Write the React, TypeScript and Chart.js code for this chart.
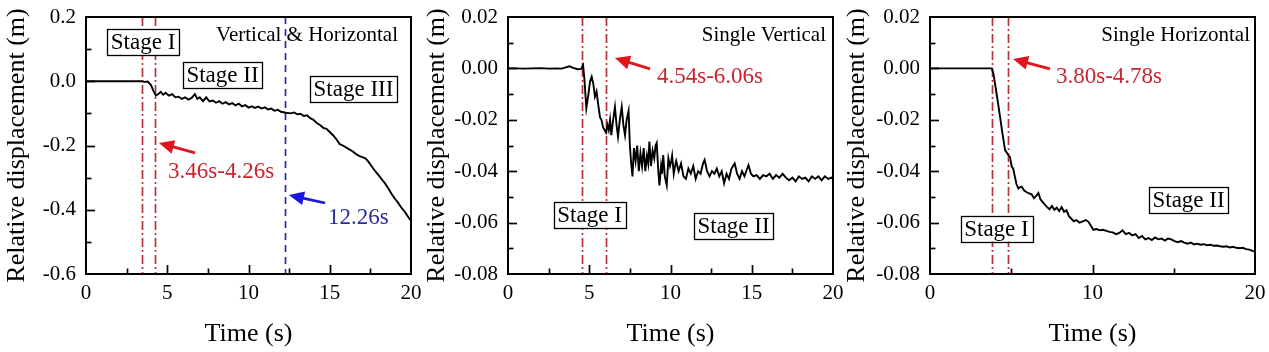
import React, { useEffect, useRef } from "react";
import { Chart, registerables } from "chart.js";

Chart.register(...registerables);

// ---------- Panel 1: Vertical & Horizontal ----------
const p1Time = [0, 1, 2, 3, 3.4, 3.6, 3.8, 4.0, 4.15, 4.3, 4.45, 4.6, 4.75, 4.9, 5.1, 5.3, 5.5, 5.7, 5.9, 6.1, 6.3, 6.5, 6.7, 6.85, 7.0, 7.2, 7.4, 7.6, 7.8, 8.0, 8.2, 8.4, 8.6, 8.8, 9.0, 9.2, 9.4, 9.6, 9.8, 10.0, 10.2, 10.4, 10.6, 10.8, 11.0, 11.2, 11.4, 11.6, 11.8, 12.0, 12.3, 12.6, 12.8, 13.0, 13.2, 13.4, 13.6, 13.8, 14.0, 14.2, 14.4, 14.6, 14.8, 15.0, 15.2, 15.4, 15.6, 15.8, 16.0, 16.2, 16.4, 16.6, 16.8, 17.0, 17.2, 17.4, 17.6, 17.8, 18.0, 18.2, 18.4, 18.6, 18.8, 19.0, 19.2, 19.4, 19.6, 19.8, 20.0];
const p1Disp = [0, 0, 0, 0, 0, -0.002, -0.001, -0.012, -0.03, -0.045, -0.04, -0.033, -0.042, -0.036, -0.045, -0.04, -0.05, -0.048, -0.055, -0.05, -0.057, -0.052, -0.04, -0.055, -0.05, -0.062, -0.05, -0.063, -0.06, -0.067, -0.062, -0.07, -0.065, -0.072, -0.068, -0.075, -0.07, -0.078, -0.074, -0.082, -0.078, -0.083, -0.079, -0.085, -0.081, -0.088, -0.085, -0.092, -0.089, -0.095, -0.098, -0.1, -0.097, -0.103, -0.101, -0.108, -0.106, -0.115, -0.12, -0.13, -0.136, -0.145, -0.148, -0.158, -0.168, -0.18, -0.195, -0.2, -0.206, -0.212, -0.218, -0.226, -0.232, -0.236, -0.24, -0.252, -0.266, -0.28, -0.292, -0.305, -0.318, -0.333, -0.35, -0.365, -0.378, -0.393, -0.405, -0.42, -0.435];
const p1StageLines = [3.46, 4.26];
const p1OnsetLines = [12.26];
const p1YTicks = [0.2, 0.0, -0.2, -0.4, -0.6];
const p1XTicks = [0, 5, 10, 15, 20];

// ---------- Panel 2: Single Vertical ----------
const p2Time = [0, 0.5, 1, 1.5, 2, 2.5, 3, 3.3, 3.6, 3.8, 4.0, 4.3, 4.5, 4.62, 4.7, 4.82, 4.95, 5.05, 5.15, 5.25, 5.35, 5.45, 5.55, 5.66, 5.75, 5.85, 5.95, 6.03, 6.12, 6.2, 6.28, 6.36, 6.45, 6.58, 6.68, 6.77, 6.88, 7.0, 7.1, 7.2, 7.3, 7.42, 7.5, 7.58, 7.66, 7.75, 7.85, 7.95, 8.05, 8.15, 8.25, 8.35, 8.45, 8.55, 8.63, 8.7, 8.8, 8.9, 9.0, 9.08, 9.15, 9.25, 9.32, 9.42, 9.48, 9.55, 9.65, 9.77, 9.87, 9.97, 10.05, 10.1, 10.2, 10.28, 10.35, 10.5, 10.65, 10.8, 10.95, 11.1, 11.25, 11.4, 11.55, 11.7, 11.85, 12.0, 12.1, 12.25, 12.4, 12.55, 12.7, 12.85, 13.0, 13.15, 13.3, 13.45, 13.6, 13.75, 13.95, 14.1, 14.25, 14.4, 14.55, 14.8, 14.95, 15.1, 15.3, 15.5, 15.7, 15.9, 16.1, 16.3, 16.5, 16.7, 16.9, 17.1, 17.3, 17.5, 17.7, 17.9, 18.1, 18.3, 18.5, 18.7, 18.9, 19.1, 19.3, 19.5, 19.7, 19.9, 20.0];
const p2Disp = [0, 0, -0.0001, 0, 0.0001, -0.0001, 0, -0.0001, 0.0005, 0.0008, 0.0002, -0.0003, -0.0002, 0.0013, -0.004, -0.0155, -0.01, -0.005, -0.0032, -0.006, -0.011, -0.009, -0.014, -0.019, -0.02, -0.023, -0.024, -0.025, -0.022, -0.024, -0.02, -0.026, -0.021, -0.015, -0.022, -0.0266, -0.02, -0.015, -0.022, -0.026, -0.02, -0.0165, -0.03, -0.037, -0.042, -0.031, -0.036, -0.03, -0.04, -0.033, -0.038, -0.031, -0.04, -0.034, -0.037, -0.0285, -0.038, -0.032, -0.035, -0.03, -0.029, -0.04, -0.0455, -0.038, -0.041, -0.0337, -0.042, -0.0455, -0.035, -0.038, -0.036, -0.034, -0.041, -0.038, -0.036, -0.04, -0.037, -0.042, -0.043, -0.039, -0.041, -0.038, -0.043, -0.04, -0.041, -0.037, -0.0356, -0.04, -0.042, -0.04, -0.041, -0.039, -0.042, -0.04, -0.0447, -0.041, -0.043, -0.039, -0.037, -0.041, -0.043, -0.04, -0.042, -0.0376, -0.041, -0.042, -0.0415, -0.043, -0.0415, -0.042, -0.041, -0.043, -0.0415, -0.0425, -0.041, -0.0425, -0.0435, -0.0425, -0.044, -0.042, -0.043, -0.0425, -0.044, -0.042, -0.043, -0.042, -0.0435, -0.042, -0.043, -0.0425, -0.043];
const p2StageLines = [4.54, 6.06];
const p2YTicks = [0.02, 0.0, -0.02, -0.04, -0.06, -0.08];
const p2XTicks = [0, 5, 10, 15, 20];

// ---------- Panel 3: Single Horizontal ----------
const p3Time = [0, 1, 2, 3, 3.8, 3.9, 4.0, 4.15, 4.31, 4.45, 4.62, 4.82, 4.92, 5.03, 5.12, 5.22, 5.32, 5.44, 5.54, 5.64, 5.8, 5.95, 6.1, 6.25, 6.4, 6.55, 6.67, 6.8, 7.0, 7.18, 7.35, 7.5, 7.65, 7.8, 7.95, 8.1, 8.25, 8.4, 8.55, 8.7, 8.85, 9.0, 9.2, 9.4, 9.6, 9.75, 9.9, 10.05, 10.25, 10.45, 10.65, 10.85, 11.05, 11.25, 11.45, 11.65, 11.85, 12.05, 12.25, 12.45, 12.65, 12.85, 13.05, 13.25, 13.45, 13.65, 13.85, 14.05, 14.25, 14.45, 14.65, 14.85, 15.05, 15.25, 15.45, 15.65, 15.85, 16.05, 16.25, 16.45, 16.65, 16.85, 17.05, 17.25, 17.45, 17.65, 17.85, 18.05, 18.25, 18.45, 18.65, 18.85, 19.05, 19.25, 19.45, 19.65, 19.85, 20.0];
const p3Disp = [0, 0, 0, 0, 0, -0.002, -0.0058, -0.012, -0.0188, -0.025, -0.0318, -0.0337, -0.0345, -0.0382, -0.039, -0.042, -0.045, -0.0467, -0.0462, -0.046, -0.0475, -0.0482, -0.0486, -0.049, -0.0505, -0.0495, -0.0485, -0.051, -0.0525, -0.0538, -0.0548, -0.0535, -0.055, -0.0542, -0.0555, -0.054, -0.0558, -0.0552, -0.0575, -0.0585, -0.0595, -0.059, -0.06, -0.0595, -0.059, -0.0597, -0.0612, -0.0628, -0.0625, -0.063, -0.0628, -0.0632, -0.0636, -0.0638, -0.0645, -0.064, -0.063, -0.0645, -0.064, -0.065, -0.0645, -0.066, -0.0652, -0.0665, -0.066, -0.0668, -0.0658, -0.0665, -0.0662, -0.067, -0.0662, -0.0665, -0.0672, -0.0676, -0.0672, -0.0678, -0.0682, -0.0678, -0.0685, -0.0682, -0.0686, -0.0684, -0.0688, -0.0686, -0.069, -0.0689, -0.0692, -0.0694, -0.0692, -0.0697, -0.0694, -0.0698, -0.07, -0.0698, -0.0703, -0.0705, -0.071, -0.0713];
const p3StageLines = [3.8, 4.78];
const p3YTicks = [0.02, 0.0, -0.02, -0.04, -0.06, -0.08];
const p3XTicks = [0, 10, 20];

const SERIF = '"Liberation Serif", "Times New Roman", Times, serif';
const RED_LINE = "#b9323b";
const RED_TEXT = "#c8262f";
const RED_ARROW = "#e3141c";
const BLUE_LINE = "#2b2ba6";
const BLUE_TEXT = "#2a2a9e";
const BLUE_ARROW = "#1717e6";

type Pt = [number, number];
type PanelCfg = {
  left: number;
  width: number;
  axisW: number;
  padRight: number;
  time: number[];
  disp: number[];
  yTicks: number[];
  xTicks: number[];
  yMinor: number;
  xMinor: number;
  decimals: number;
  redLines: number[];
  blueLines: number[];
  caption: { text: string; at: Pt };
  stages: { text: string; at: Pt }[];
  arrows: { from: Pt; to: Pt; color: string }[];
  notes: { text: string; at: Pt; color: string }[];
};

const panels: PanelCfg[] = [
  {
    left: 0, width: 432, axisW: 86, padRight: 21,
    time: p1Time, disp: p1Disp, yTicks: p1YTicks, xTicks: p1XTicks,
    yMinor: 0.1, xMinor: 2.5, decimals: 1,
    redLines: p1StageLines, blueLines: p1OnsetLines,
    caption: { text: "Vertical & Horizontal", at: [19.2, 0.144] },
    stages: [
      { text: "Stage I", at: [3.51, 0.122] },
      { text: "Stage II", at: [8.4, 0.021] },
      { text: "Stage III", at: [16.46, -0.024] },
    ],
    arrows: [
      { from: [6.71, -0.223], to: [4.49, -0.192], color: RED_ARROW },
      { from: [14.71, -0.379], to: [12.49, -0.354], color: BLUE_ARROW },
    ],
    notes: [
      { text: "3.46s-4.26s", at: [5.05, -0.2825], color: RED_TEXT },
      { text: "12.26s", at: [14.89, -0.426], color: BLUE_TEXT },
    ],
  },
  {
    left: 420, width: 432, axisW: 88, padRight: 19,
    time: p2Time, disp: p2Disp, yTicks: p2YTicks, xTicks: p2XTicks,
    yMinor: 0.01, xMinor: 2.5, decimals: 2,
    redLines: p2StageLines, blueLines: [],
    caption: { text: "Single Vertical", at: [19.57, 0.013] },
    stages: [
      { text: "Stage I", at: [5.02, -0.057] },
      { text: "Stage II", at: [13.88, -0.0613] },
    ],
    arrows: [{ from: [8.74, -0.0002], to: [6.58, 0.004], color: RED_ARROW }],
    notes: [{ text: "4.54s-6.06s", at: [9.17, -0.00335], color: RED_TEXT }],
  },
  {
    left: 840, width: 429, axisW: 90, padRight: 14,
    time: p3Time, disp: p3Disp, yTicks: p3YTicks, xTicks: p3XTicks,
    yMinor: 0.01, xMinor: 5, decimals: 2,
    redLines: p3StageLines, blueLines: [],
    caption: { text: "Single Horizontal", at: [19.69, 0.013] },
    stages: [
      { text: "Stage I", at: [4.09, -0.0623] },
      { text: "Stage II", at: [15.91, -0.0512] },
    ],
    arrows: [{ from: [7.38, -0.0002], to: [5.11, 0.0037], color: RED_ARROW }],
    notes: [{ text: "3.80s-4.78s", at: [7.75, -0.00335], color: RED_TEXT }],
  },
];

function drawArrow(ctx: CanvasRenderingContext2D, x1: number, y1: number, x2: number, y2: number, color: string) {
  const ang = Math.atan2(y2 - y1, x2 - x1);
  const headLen = 15;
  const headW = 7;
  const bx = x2 - headLen * Math.cos(ang);
  const by = y2 - headLen * Math.sin(ang);
  ctx.save();
  ctx.strokeStyle = color;
  ctx.fillStyle = color;
  ctx.lineWidth = 2.8;
  ctx.setLineDash([]);
  ctx.beginPath();
  ctx.moveTo(x1, y1);
  ctx.lineTo(bx + 2 * Math.cos(ang), by + 2 * Math.sin(ang));
  ctx.stroke();
  ctx.beginPath();
  ctx.moveTo(x2, y2);
  ctx.lineTo(bx + headW * Math.sin(ang), by - headW * Math.cos(ang));
  ctx.lineTo(bx - headW * Math.sin(ang), by + headW * Math.cos(ang));
  ctx.closePath();
  ctx.fill();
  ctx.restore();
}

function makeDecor(cfg: PanelCfg) {
  return {
    id: "decor",
    beforeDatasetsDraw(chart: any) {
      const { ctx, chartArea: a, scales } = chart;
      const xs = scales.x;
      ctx.save();
      ctx.lineWidth = 1.7;
      ctx.strokeStyle = RED_LINE;
      ctx.setLineDash([9, 3, 2, 3]);
      for (const t of cfg.redLines) {
        const px = Math.round(xs.getPixelForValue(t)) + 0.5;
        ctx.beginPath();
        ctx.moveTo(px, a.top);
        ctx.lineTo(px, a.bottom);
        ctx.stroke();
      }
      ctx.strokeStyle = BLUE_LINE;
      ctx.setLineDash([7, 5]);
      for (const t of cfg.blueLines) {
        const px = Math.round(xs.getPixelForValue(t)) + 0.5;
        ctx.beginPath();
        ctx.moveTo(px, a.top);
        ctx.lineTo(px, a.bottom);
        ctx.stroke();
      }
      ctx.restore();
    },
    afterDatasetsDraw(chart: any) {
      const { ctx, chartArea: a, scales } = chart;
      const xs = scales.x;
      const ys = scales.y;
      const X = (t: number) => xs.getPixelForValue(t);
      const Y = (v: number) => ys.getPixelForValue(v);
      ctx.save();
      ctx.setLineDash([]);

      // inward ticks
      ctx.strokeStyle = "#000";
      ctx.lineWidth = 1.7;
      const yMin = ys.min, yMax = ys.max, xMin = xs.min, xMax = xs.max;
      const nY = Math.round((yMax - yMin) / cfg.yMinor);
      for (let i = 1; i < nY; i++) {
        const v = yMin + i * cfg.yMinor;
        const major = cfg.yTicks.some((tv) => Math.abs(tv - v) < 1e-9);
        const len = major ? 9 : 5.5;
        const py = Math.round(Y(v)) + 0.5;
        ctx.beginPath();
        ctx.moveTo(a.left, py);
        ctx.lineTo(a.left + len, py);
        ctx.stroke();
      }
      const nX = Math.round((xMax - xMin) / cfg.xMinor);
      for (let i = 1; i < nX; i++) {
        const t = xMin + i * cfg.xMinor;
        const major = cfg.xTicks.some((tv) => Math.abs(tv - t) < 1e-9);
        const len = major ? 9 : 5.5;
        const px = Math.round(X(t)) + 0.5;
        ctx.beginPath();
        ctx.moveTo(px, a.bottom);
        ctx.lineTo(px, a.bottom - len);
        ctx.stroke();
      }

      // frame
      ctx.lineWidth = 2;
      ctx.strokeRect(a.left, a.top, a.right - a.left, a.bottom - a.top);

      // caption
      ctx.fillStyle = "#000";
      ctx.font = `21px ${SERIF}`;
      ctx.textAlign = "right";
      ctx.textBaseline = "middle";
      ctx.fillText(cfg.caption.text, X(cfg.caption.at[0]), Y(cfg.caption.at[1]));

      // stage boxes
      ctx.font = `23px ${SERIF}`;
      ctx.textAlign = "center";
      for (const s of cfg.stages) {
        const cx = X(s.at[0]);
        const cy = Y(s.at[1]);
        const w = ctx.measureText(s.text).width + 7;
        const h = 26;
        ctx.fillStyle = "#fff";
        ctx.fillRect(cx - w / 2, cy - h / 2, w, h);
        ctx.lineWidth = 1.3;
        ctx.strokeStyle = "#000";
        ctx.strokeRect(Math.round(cx - w / 2) + 0.5, Math.round(cy - h / 2) + 0.5, Math.round(w), h);
        ctx.fillStyle = "#000";
        ctx.fillText(s.text, cx, cy + 1);
      }

      // arrows
      for (const ar of cfg.arrows) {
        drawArrow(ctx, X(ar.from[0]), Y(ar.from[1]), X(ar.to[0]), Y(ar.to[1]), ar.color);
      }

      // notes
      ctx.font = `23px ${SERIF}`;
      ctx.textAlign = "left";
      ctx.textBaseline = "middle";
      for (const n of cfg.notes) {
        ctx.fillStyle = n.color;
        ctx.fillText(n.text, X(n.at[0]), Y(n.at[1]));
      }
      ctx.restore();
    },
  };
}

function Panel({ cfg }: { cfg: PanelCfg }) {
  const ref = useRef<HTMLCanvasElement | null>(null);
  useEffect(() => {
    if (!ref.current) return;
    const points = cfg.time.map((t, i) => ({ x: t, y: cfg.disp[i] }));
    const yMin = Math.min(...cfg.yTicks);
    const yMax = Math.max(...cfg.yTicks);
    const xMin = Math.min(...cfg.xTicks);
    const xMax = Math.max(...cfg.xTicks);
    const yStep = Math.abs(cfg.yTicks[0] - cfg.yTicks[1]);
    const xStep = Math.abs(cfg.xTicks[1] - cfg.xTicks[0]);
    const chart = new Chart(ref.current, {
      type: "line",
      data: {
        datasets: [
          {
            data: points,
            borderColor: "#000",
            borderWidth: 1.9,
            pointRadius: 0,
            tension: 0,
            fill: false,
          },
        ],
      },
      options: {
        responsive: false,
        animation: false,
        devicePixelRatio: 1,
        layout: { padding: { left: 0, top: 17, right: cfg.padRight, bottom: 0 } },
        plugins: { legend: { display: false }, tooltip: { enabled: false } },
        scales: {
          x: {
            type: "linear",
            min: xMin,
            max: xMax,
            grid: { display: false, drawTicks: false },
            border: { display: false },
            ticks: {
              stepSize: xStep,
              autoSkip: false,
              maxRotation: 0,
              padding: 7,
              color: "#000",
              font: { family: SERIF, size: 21 },
              callback: (v: any) => String(Math.round(Number(v))),
            },
            title: {
              display: true,
              text: "Time (s)",
              color: "#000",
              font: { family: SERIF, size: 26 },
              padding: { top: 0, bottom: 2 },
            },
            afterFit: (s: any) => {
              s.height = 78;
              s.paddingLeft = 0;
              s.paddingRight = 0;
            },
          },
          y: {
            type: "linear",
            min: yMin,
            max: yMax,
            grid: { display: false, drawTicks: false },
            border: { display: false },
            ticks: {
              stepSize: yStep,
              autoSkip: false,
              padding: 10,
              color: "#000",
              font: { family: SERIF, size: 21 },
              callback: (v: any) => {
                const n = Number(v);
                return (Math.abs(n) < 1e-9 ? 0 : n).toFixed(cfg.decimals);
              },
            },
            title: {
              display: true,
              text: "Relative displacement (m)",
              color: "#000",
              font: { family: SERIF, size: 26 },
              padding: { top: 2, bottom: 0 },
            },
            afterFit: (s: any) => {
              s.width = cfg.axisW;
              s.paddingTop = 0;
              s.paddingBottom = 0;
            },
          },
        },
      },
      plugins: [makeDecor(cfg)],
    } as any);
    return () => chart.destroy();
  }, [cfg]);
  return (
    <canvas
      ref={ref}
      width={cfg.width}
      height={352}
      style={{ position: "absolute", left: cfg.left, top: 0, width: cfg.width, height: 352 }}
    />
  );
}

export default function App() {
  return (
    <div style={{ position: "absolute", left: 0, top: 0, width: 1269, height: 352, background: "#fff", overflow: "hidden" }}>
      {panels.map((p, i) => (
        <Panel key={i} cfg={p} />
      ))}
    </div>
  );
}
